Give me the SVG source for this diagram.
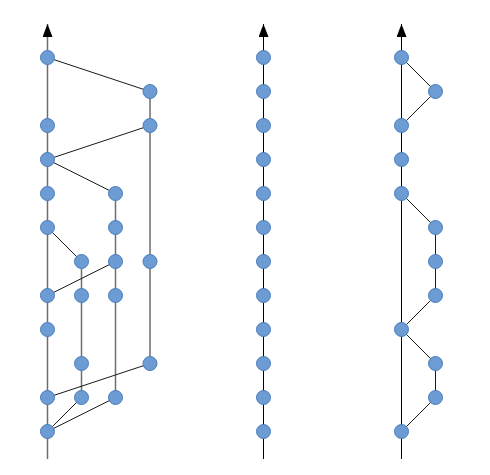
<svg xmlns="http://www.w3.org/2000/svg" width="490" height="475" viewBox="0 0 490 475">
<style>
.n{fill:#6d9bd3;stroke:#4a7ebb;stroke-width:1}
.g{stroke:#6e6e6e;stroke-width:1.5;fill:none}
.k{stroke:#000;stroke-width:1;fill:none}
.d{stroke:#1a1a1a;stroke-width:1;fill:none}
</style>
<defs>
<marker id="ah" markerWidth="14" markerHeight="10" refX="13" refY="5" orient="auto" markerUnits="userSpaceOnUse" viewBox="0 0 14 10">
<path d="M0,0 L13,5 L0,10 Z" fill="#000"/>
</marker>
</defs>
<g id="connectors">
<!-- left -->
<line class="g" x1="47.5" y1="459" x2="47.5" y2="24" marker-end="url(#ah)"/>
<line class="g" x1="150" y1="91.5" x2="150" y2="363.5"/>
<line class="g" x1="115.5" y1="193.5" x2="115.5" y2="397.5"/>
<line class="g" x1="81.5" y1="261.5" x2="81.5" y2="397.5"/>
<line class="d" x1="47.5" y1="57.5" x2="150" y2="91.5"/>
<line class="d" x1="47.5" y1="159.5" x2="150" y2="125.5"/>
<line class="d" x1="47.5" y1="159.5" x2="115.5" y2="193.5"/>
<line class="d" x1="47.5" y1="227.5" x2="81.5" y2="261.5"/>
<line class="d" x1="115.5" y1="261.5" x2="47.5" y2="295.5"/>
<line class="d" x1="150" y1="363.5" x2="47.5" y2="397.5"/>
<line class="d" x1="81.5" y1="397.5" x2="47.5" y2="431.5"/>
<line class="d" x1="115.5" y1="397.5" x2="47.5" y2="431.5"/>
<!-- middle -->
<line class="k" x1="263.5" y1="459" x2="263.5" y2="24" marker-end="url(#ah)"/>
<!-- right -->
<line class="k" x1="401.5" y1="459" x2="401.5" y2="24" marker-end="url(#ah)"/>
<line class="d" x1="401.5" y1="57.5" x2="435.5" y2="91.5"/>
<line class="d" x1="435.5" y1="91.5" x2="401.5" y2="125.5"/>
<line class="d" x1="401.5" y1="193.5" x2="435.5" y2="227.5"/>
<line class="d" x1="435.5" y1="227.5" x2="435.5" y2="295.5"/>
<line class="d" x1="435.5" y1="295.5" x2="401.5" y2="329.5"/>
<line class="d" x1="401.5" y1="329.5" x2="435.5" y2="363.5"/>
<line class="d" x1="435.5" y1="363.5" x2="435.5" y2="397.5"/>
<line class="d" x1="435.5" y1="397.5" x2="401.5" y2="431.5"/>
</g>
<g id="left-nodes">
<circle class="n" cx="47.5" cy="57.5" r="7"/>
<circle class="n" cx="47.5" cy="125.5" r="7"/>
<circle class="n" cx="47.5" cy="159.5" r="7"/>
<circle class="n" cx="47.5" cy="193.5" r="7"/>
<circle class="n" cx="47.5" cy="227.5" r="7"/>
<circle class="n" cx="47.5" cy="295.5" r="7"/>
<circle class="n" cx="47.5" cy="329.5" r="7"/>
<circle class="n" cx="47.5" cy="397.5" r="7"/>
<circle class="n" cx="47.5" cy="431.5" r="7"/>
<circle class="n" cx="81.5" cy="261.5" r="7"/>
<circle class="n" cx="81.5" cy="295.5" r="7"/>
<circle class="n" cx="81.5" cy="363.5" r="7"/>
<circle class="n" cx="81.5" cy="397.5" r="7"/>
<circle class="n" cx="115.5" cy="193.5" r="7"/>
<circle class="n" cx="115.5" cy="227.5" r="7"/>
<circle class="n" cx="115.5" cy="261.5" r="7"/>
<circle class="n" cx="115.5" cy="295.5" r="7"/>
<circle class="n" cx="115.5" cy="397.5" r="7"/>
<circle class="n" cx="150" cy="91.5" r="7"/>
<circle class="n" cx="150" cy="125.5" r="7"/>
<circle class="n" cx="150" cy="261.5" r="7"/>
<circle class="n" cx="150" cy="363.5" r="7"/>
</g>
<g id="middle-nodes">
<circle class="n" cx="263.5" cy="57.5" r="7"/>
<circle class="n" cx="263.5" cy="91.5" r="7"/>
<circle class="n" cx="263.5" cy="125.5" r="7"/>
<circle class="n" cx="263.5" cy="159.5" r="7"/>
<circle class="n" cx="263.5" cy="193.5" r="7"/>
<circle class="n" cx="263.5" cy="227.5" r="7"/>
<circle class="n" cx="263.5" cy="261.5" r="7"/>
<circle class="n" cx="263.5" cy="295.5" r="7"/>
<circle class="n" cx="263.5" cy="329.5" r="7"/>
<circle class="n" cx="263.5" cy="363.5" r="7"/>
<circle class="n" cx="263.5" cy="397.5" r="7"/>
<circle class="n" cx="263.5" cy="431.5" r="7"/>
</g>
<g id="right-nodes">
<circle class="n" cx="401.5" cy="57.5" r="7"/>
<circle class="n" cx="401.5" cy="125.5" r="7"/>
<circle class="n" cx="401.5" cy="159.5" r="7"/>
<circle class="n" cx="401.5" cy="193.5" r="7"/>
<circle class="n" cx="401.5" cy="329.5" r="7"/>
<circle class="n" cx="401.5" cy="431.5" r="7"/>
<circle class="n" cx="435.5" cy="91.5" r="7"/>
<circle class="n" cx="435.5" cy="227.5" r="7"/>
<circle class="n" cx="435.5" cy="261.5" r="7"/>
<circle class="n" cx="435.5" cy="295.5" r="7"/>
<circle class="n" cx="435.5" cy="363.5" r="7"/>
<circle class="n" cx="435.5" cy="397.5" r="7"/>
</g>
</svg>
